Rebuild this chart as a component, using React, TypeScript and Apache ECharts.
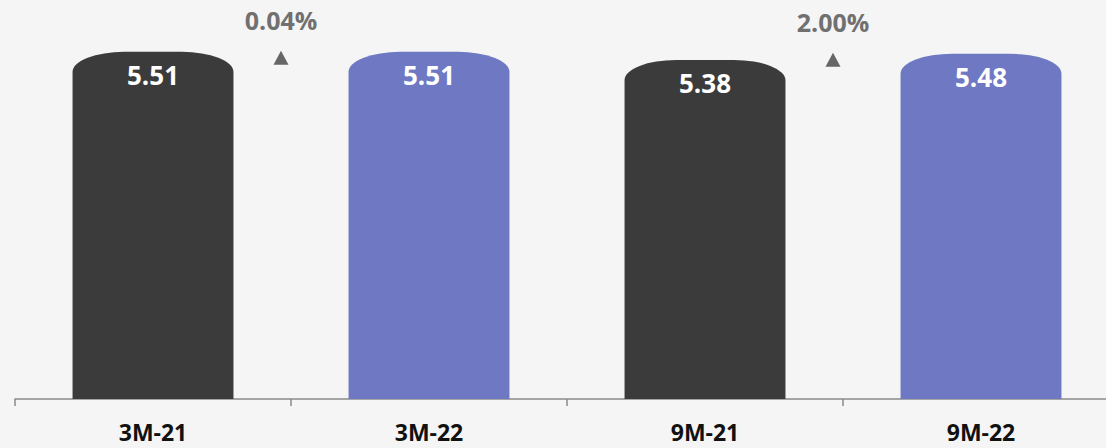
import React, { useEffect, useRef } from "react";
import * as echarts from "echarts";

// Periods and their values
const categories = ["3M-21", "3M-22", "9M-21", "9M-22"];
const values = [5.51, 5.51, 5.38, 5.48];
const barColors = ["#3b3b3b", "#6f79c3", "#3b3b3b", "#6f79c3"];

// Year-over-year change between each pair of periods (from index, to index, % change)
const changeFrom = [0, 2];
const changeTo = [1, 3];
const changePct = [0.04, 2.0];

const FONT = '"Open Sans", "Noto Sans", sans-serif';

export default function App() {
  const ref = useRef<HTMLDivElement>(null);

  useEffect(() => {
    document.body.style.margin = "0";
    const chart = echarts.init(ref.current!, null, { renderer: "svg" });

    const barData = values.map((v, i) => [i, v]);
    const changeData = changePct.map((p, k) => [changeFrom[k], changeTo[k], p]);

    chart.setOption({
      animation: false,
      backgroundColor: "#f5f5f5",
      grid: {
        left: 15,
        width: 1104,
        top: 21,
        height: 378,
        containLabel: false,
        outerBoundsMode: "none",
      },
      xAxis: {
        type: "category",
        data: categories,
        boundaryGap: true,
        axisLine: { show: true, lineStyle: { color: "#8a8a8a", width: 1.5 } },
        axisTick: { show: true, length: 7, lineStyle: { color: "#8a8a8a", width: 1.5 } },
        axisLabel: {
          color: "#111111",
          fontWeight: "bold",
          fontSize: 23,
          fontFamily: FONT,
          margin: 21,
        },
        splitLine: { show: false },
      },
      yAxis: {
        type: "value",
        min: 0,
        max: 6,
        show: false,
        splitLine: { show: false },
      },
      series: [
        {
          type: "custom",
          name: "bars",
          data: barData,
          encode: { x: 0, y: 1 },
          z: 2,
          renderItem: (params: any, api: any) => {
            const idx = api.value(0);
            const v = api.value(1);
            const top = api.coord([idx, v]);
            const base = api.coord([idx, 0]);
            const w = api.size([1, 0])[0] * 0.583;
            const L = top[0] - w / 2;
            const R = top[0] + w / 2;
            const T = top[1];
            const B = base[1];
            const rx = w * 0.32;
            const ry = 20;
            const d =
              `M${L},${B} L${L},${T + ry} A${rx},${ry} 0 0 1 ${L + rx},${T} ` +
              `L${R - rx},${T} A${rx},${ry} 0 0 1 ${R},${T + ry} L${R},${B} Z`;
            return {
              type: "group",
              children: [
                {
                  type: "path",
                  shape: { pathData: d },
                  style: { fill: barColors[params.dataIndex] },
                },
                {
                  type: "text",
                  style: {
                    text: v.toFixed(2),
                    x: top[0],
                    y: T + 23,
                    align: "center",
                    verticalAlign: "middle",
                    fill: "#ffffff",
                    fontSize: 26,
                    fontWeight: "bold",
                    fontFamily: FONT,
                  },
                },
              ],
            };
          },
        },
        {
          type: "custom",
          name: "change",
          data: changeData,
          encode: { x: 0, y: 2 },
          z: 3,
          renderItem: (params: any, api: any) => {
            const i0 = api.value(0);
            const i1 = api.value(1);
            const pct = api.value(2);
            const c0 = api.coord([i0, values[i0]]);
            const c1 = api.coord([i1, values[i1]]);
            const x = (c0[0] + c1[0]) / 2 - 10;
            const topY = Math.min(c0[1], c1[1]);
            const ty = topY + 6;
            return {
              type: "group",
              children: [
                {
                  type: "text",
                  style: {
                    text: pct.toFixed(2) + "%",
                    x,
                    y: topY - 32,
                    align: "center",
                    verticalAlign: "middle",
                    fill: "#707070",
                    fontSize: 25,
                    fontWeight: "bold",
                    fontFamily: FONT,
                  },
                },
                {
                  type: "polygon",
                  shape: {
                    points: [
                      [x, ty - 7],
                      [x + 7.5, ty + 7],
                      [x - 7.5, ty + 7],
                    ],
                  },
                  style: { fill: "#666666" },
                },
              ],
            };
          },
        },
      ],
    });

    return () => chart.dispose();
  }, []);

  return (
    <div
      ref={ref}
      style={{ position: "absolute", left: 0, top: 0, width: 1106, height: 448 }}
    />
  );
}
